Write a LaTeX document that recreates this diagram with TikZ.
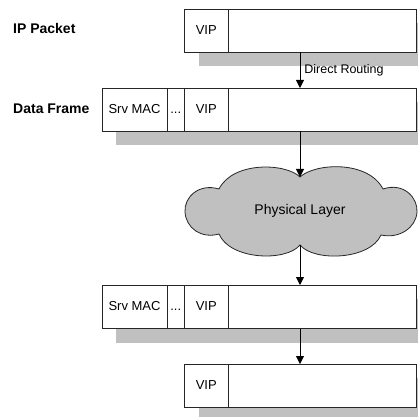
\documentclass[tikz,border=0pt]{standalone}
\usepackage{fontspec}
\setmainfont{Liberation Sans}
\usetikzlibrary{positioning,arrows.meta}
\definecolor{shadegray}{RGB}{192,192,192}
\tikzset{
  cell/.style={draw=black!85, line width=0.8pt, fill=white, inner sep=0pt,
    outer sep=0pt, minimum height=43.5pt, text height=9.5pt, text depth=2.5pt,
    font=\fontsize{13}{15}\selectfont},
  rowlabel/.style={font=\fontsize{14}{16}\selectfont\bfseries, anchor=west, inner sep=0pt},
  shadow/.style={fill=shadegray},
  flow/.style={->, line width=0.8pt},
}
\begin{document}
\begin{tikzpicture}[x=1pt, y=-1pt, >={Triangle[length=8pt,width=8pt]}]
\useasboundingbox (0,0) rectangle (418,417);
\clip (0,0) rectangle (418,417);

\def\xl{102}    % left edge of the frame rows
\def\xv{184.5}  % left edge of the VIP cell
\def\xr{416}
\def\hh{43.5}
\def\sh{14}

%--- Shadows ---
\foreach \xs/\ys in {\xv/9, \xl/88, \xl/285, \xv/364}{
  \fill[shadow] (\xs+\sh,\ys+\sh) rectangle (\xr+\sh,\ys+\hh+\sh);
}

%--- IP packet ---
\node[cell, anchor=north west, minimum width=43.5pt] (ip-vip) at (\xv,9) {VIP};
\node[cell, minimum width=188pt, right=0pt of ip-vip] (ip-data) {};
\node[rowlabel] (ip-lbl) at (13,28.5) {IP Packet};

%--- Data frame ---
\node[cell, anchor=north west, minimum width=65pt] (df-mac) at (\xl,88) {Srv MAC};
\node[cell, minimum width=17.5pt, right=0pt of df-mac] (df-dots) {...};
\node[cell, minimum width=43.5pt, right=0pt of df-dots] (df-vip) {VIP};
\node[cell, minimum width=188pt, right=0pt of df-vip] (df-data) {};
\node[rowlabel] (df-lbl) at (13,108.5) {Data Frame};

%--- Physical layer ---
\filldraw[fill=shadegray, draw=black!85, line width=0.8pt]
  (300,177) .. controls (315,163) and (368,160) .. (383,189)
  .. controls (404,182) and (418,198) .. (417,212)
  .. controls (416,228) and (399,239) .. (381,235)
  .. controls (370,260) and (314,262) .. (300,245)
  .. controls (286,262) and (230,260) .. (219,234)
  .. controls (201,239) and (186,228) .. (185,212)
  .. controls (184,197) and (199,183) .. (219,189)
  .. controls (233,161) and (286,163) .. (300,177) -- cycle;
\node[font=\fontsize{14}{16}\selectfont] (phys) at (300,211) {Physical Layer};
\coordinate (phys-top) at (300,177);
\coordinate (phys-bot) at (300,245);

%--- Received frame ---
\node[cell, anchor=north west, minimum width=65pt] (rx-mac) at (\xl,285) {Srv MAC};
\node[cell, minimum width=17.5pt, right=0pt of rx-mac] (rx-dots) {...};
\node[cell, minimum width=43.5pt, right=0pt of rx-dots] (rx-vip) {VIP};
\node[cell, minimum width=188pt, right=0pt of rx-vip] (rx-data) {};

%--- Received packet ---
\node[cell, anchor=north west, minimum width=43.5pt] (host-vip) at (\xv,364) {VIP};
\node[cell, minimum width=188pt, right=0pt of host-vip] (host-data) {};

%--- Arrows ---
\coordinate (axis) at (300,0);
\draw[flow] (ip-data.south -| axis) -- (df-data.north -| axis)
  node[midway, right, inner sep=4pt, font=\fontsize{12.5}{14}\selectfont] (route-lbl) {Direct Routing};
\draw[flow] (df-data.south -| axis) -- (phys-top);
\draw[flow] (phys-bot) -- (rx-data.north -| axis);
\draw[flow] (rx-data.south -| axis) -- (host-data.north -| axis);

\end{tikzpicture}
\end{document}
